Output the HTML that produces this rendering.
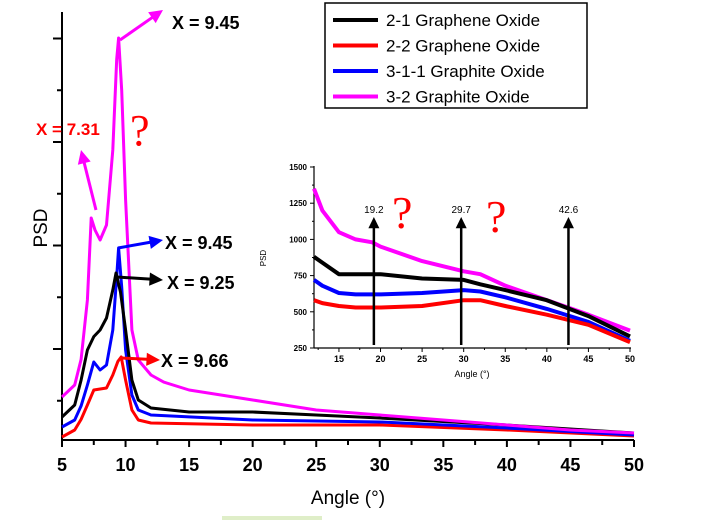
<!DOCTYPE html>
<html><head><meta charset="utf-8"><style>
body{margin:0;background:#fff;width:721px;height:520px;overflow:hidden;font-family:"Liberation Sans",Arial,sans-serif}
svg{display:block}
</style></head><body>
<svg id="c" width="721" height="520"></svg>
<script>
const mainX=[5,6,6.5,7,7.3,7.6,8,8.5,9,9.3,9.45,9.7,10,10.5,11,12,13,15,20,25,30,35,40,45,50];
const magentaMain=[536,652,900,1473,2266,2150,2053,2198,2923,3800,4005,3500,2440,1184,894,749,680,604,507,411,362,314,266,217,188];
const blackX=[5,6,6.5,7,7.5,8,8.5,9,9.25,9.6,10,10.5,11,12,15,20,25,30,40,50];
const blackMain=[343,459,700,990,1120,1184,1300,1570,1734,1550,1184,700,507,430,391,391,362,333,266,188];
const blueX=[5,6,6.5,7,7.5,8,8.5,9,9.3,9.45,9.7,10,10.5,11,12,20,30,40,50];
const blueMain=[246,314,450,652,874,797,845,1184,1700,1976,1600,990,556,411,362,314,295,237,169];
const redX=[5,6,6.5,7,7.5,8.5,9,9.4,9.66,10,10.5,11,12,20,30,40,50];
const redMain=[150,217,320,459,604,623,749,880,923,700,411,314,285,266,266,217,159];
const mainXTicks=[5,10,15,20,25,30,35,40,45,50];
const mainYTicks=[1000,2000,3000,4000];
const insetX=[12,13,15,17,19,20,25,30,32,35,40,45,50];
const insetMagenta=[1350,1200,1050,1000,980,950,850,780,760,680,580,480,370];
const insetBlack=[880,840,760,760,760,760,730,720,690,650,580,470,330];
const insetBlue=[720,680,630,620,620,620,630,650,640,600,520,430,300];
const insetRed=[580,560,540,530,530,530,540,580,580,540,480,410,290];
const insetXTicks=[15,20,25,30,35,40,45,50];
const insetYTicks=[250,500,750,1000,1250,1500];
const insetPeaks=[19.2,29.7,42.6];

const NS="http://www.w3.org/2000/svg",svg=document.getElementById('c');
function el(t,a,p){const e=document.createElementNS(NS,t);for(const k in a)e.setAttribute(k,a[k]);(p||svg).appendChild(e);return e;}
const mx=v=>62+(v-5)*(634-62)/45, my=v=>452.5-v*0.1035;
const ix=v=>314+(v-12)*(630-314)/38, iy=v=>348-(v-250)*(348-167)/1250;

let ax=el('g',{});
el('line',{x1:62,y1:12,x2:62,y2:440,stroke:'#000','stroke-width':2},ax);
el('line',{x1:61,y1:440,x2:634,y2:440,stroke:'#000','stroke-width':2},ax);
for(let v=5;v<=50;v+=2.5){el('line',{x1:mx(v),y1:440,x2:mx(v),y2:v%5==0?447:445,stroke:'#000','stroke-width':2},ax);}
mainXTicks.forEach(v=>{const t=el('text',{x:mx(v),y:471,'text-anchor':'middle','font-size':18,'font-weight':'bold'},ax);t.textContent=v;});
for(let v=500;v<=4000;v+=500){el('line',{x1:v%1000==0?53:57,y1:my(v),x2:62,y2:my(v),stroke:'#000','stroke-width':2},ax);}
let xt=el('text',{x:348,y:504,'text-anchor':'middle','font-size':19});xt.textContent='Angle (°)';

let yt=el('text',{x:47,y:228,'text-anchor':'middle','font-size':19,transform:'rotate(-90 47 228)'});yt.textContent='PSD';


function series(xs,ys,fx,fy,col,w,name){const d=xs.map((x,i)=>(i?'L':'M')+fx(x).toFixed(1)+','+fy(ys[i]).toFixed(1)).join('');
const p=el('path',{d:d,fill:'none',stroke:col,'stroke-width':w,'stroke-linejoin':'round'});}
series(redX,redMain,mx,my,'#f00',3,'main-series-2-2-graphene-oxide');
series(blueX,blueMain,mx,my,'#00f',3,'main-series-3-1-1-graphite-oxide');
series(blackX,blackMain,mx,my,'#000',3,'main-series-2-1-graphene-oxide');
series(mainX,magentaMain,mx,my,'#f0f',3,'main-series-3-2-graphite-oxide');

function arrow(x1,y1,x2,y2,c,w,n){const g=el('g',{});
const ang=Math.atan2(y2-y1,x2-x1),L=w*4.5,W=w*2.2;
el('line',{x1,y1,x2:x2-L*0.8*Math.cos(ang),y2:y2-L*0.8*Math.sin(ang),stroke:c,'stroke-width':w},g);
el('polygon',{fill:c,points:`${x2},${y2} ${x2-L*Math.cos(ang)+W*Math.sin(ang)},${y2-L*Math.sin(ang)-W*Math.cos(ang)} ${x2-L*Math.cos(ang)-W*Math.sin(ang)},${y2-L*Math.sin(ang)+W*Math.cos(ang)}`},g);}
function txt(x,y,s,c,fs,n,extra){const t=el('text',Object.assign({x,y,fill:c,'font-size':fs,'font-weight':'bold'},extra||{}));t.textContent=s;return t;}
arrow(120,40,163,10,'#f0f',3,'arrow-peak-magenta');txt(172,29,'X = 9.45','#000',18,'label-magenta-peak');
arrow(96,210,81,150,'#f0f',3,'arrow-shoulder-magenta');txt(36,135,'X = 7.31','#f00',17,'label-magenta-shoulder');
arrow(118,248,163,240,'#00f',3,'arrow-peak-blue');txt(165,249,'X = 9.45','#000',18,'label-blue-peak');
arrow(117,277,163,280,'#000',3,'arrow-peak-black');txt(167,289,'X = 9.25','#000',18,'label-black-peak');
arrow(122,358,160,360,'#f00',3,'arrow-peak-red');txt(161,367,'X = 9.66','#000',18,'label-red-peak');
txt(130,145,'?','#f00',44,'question-mark-main',{'font-family':'Liberation Serif,serif','font-weight':'normal'});

const lg=el('g',{});
el('rect',{x:325,y:3,width:262,height:105,fill:'#fff',stroke:'#000','stroke-width':1.5},lg);
[['2-1 Graphene Oxide','#000'],['2-2 Graphene Oxide','#f00'],['3-1-1 Graphite Oxide','#00f'],['3-2 Graphite Oxide','#f0f']].forEach((e,i)=>{
const g=el('g',{},lg);
const y=20+i*25.5;el('line',{x1:333,y1:y,x2:378,y2:y,stroke:e[1],'stroke-width':4},g);
const t=el('text',{x:386,y:y+6,'font-size':17},g);t.textContent=e[0];});

const ig=el('g',{});
el('line',{x1:314,y1:166,x2:314,y2:348,stroke:'#000','stroke-width':1.2},ig);
el('line',{x1:314,y1:348,x2:631,y2:348,stroke:'#000','stroke-width':1.2},ig);
for(let v=250;v<=1500;v+=125){el('line',{x1:v%250==0?310:312,y1:iy(v),x2:314,y2:iy(v),stroke:'#000'},ig);}
insetYTicks.forEach(v=>{const t=el('text',{x:307,y:iy(v)+3,'text-anchor':'end','font-size':8,'font-weight':'bold'},ig);t.textContent=v;});
for(let v=12.5;v<=50;v+=2.5){el('line',{x1:ix(v),y1:348,x2:ix(v),y2:v%5==0?352:350,stroke:'#000'},ig);}
insetXTicks.forEach(v=>{const t=el('text',{x:ix(v),y:362,'text-anchor':'middle','font-size':9,'font-weight':'bold'},ig);t.textContent=v;});
let it=el('text',{x:472,y:377,'text-anchor':'middle','font-size':9},ig);it.textContent='Angle (°)';
let ipy=el('text',{x:266,y:258,'text-anchor':'middle','font-size':8,transform:'rotate(-90 266 258)'},ig);ipy.textContent='PSD';
series(insetX,insetMagenta,ix,iy,'#f0f',4,'inset-series-3-2');
series(insetX,insetBlack,ix,iy,'#000',4,'inset-series-2-1');
series(insetX,insetBlue,ix,iy,'#00f',4,'inset-series-3-1-1');
series(insetX,insetRed,ix,iy,'#f00',4,'inset-series-2-2');
insetPeaks.forEach(v=>{arrow(ix(v),345,ix(v),217,'#000',2.5,'inset-peak-arrow');txt(ix(v),213,String(v),'#000',10,'inset-peak-label',{'text-anchor':'middle','font-weight':'normal'});});
txt(392,228,'?','#f00',46,'question-mark-inset-1',{'font-family':'Liberation Serif,serif','font-weight':'normal'});
txt(486,232,'?','#f00',46,'question-mark-inset-2',{'font-family':'Liberation Serif,serif','font-weight':'normal'});
el('rect',{x:222,y:516,width:100,height:4,fill:'#dfeec8'});
</script>
</body></html>
